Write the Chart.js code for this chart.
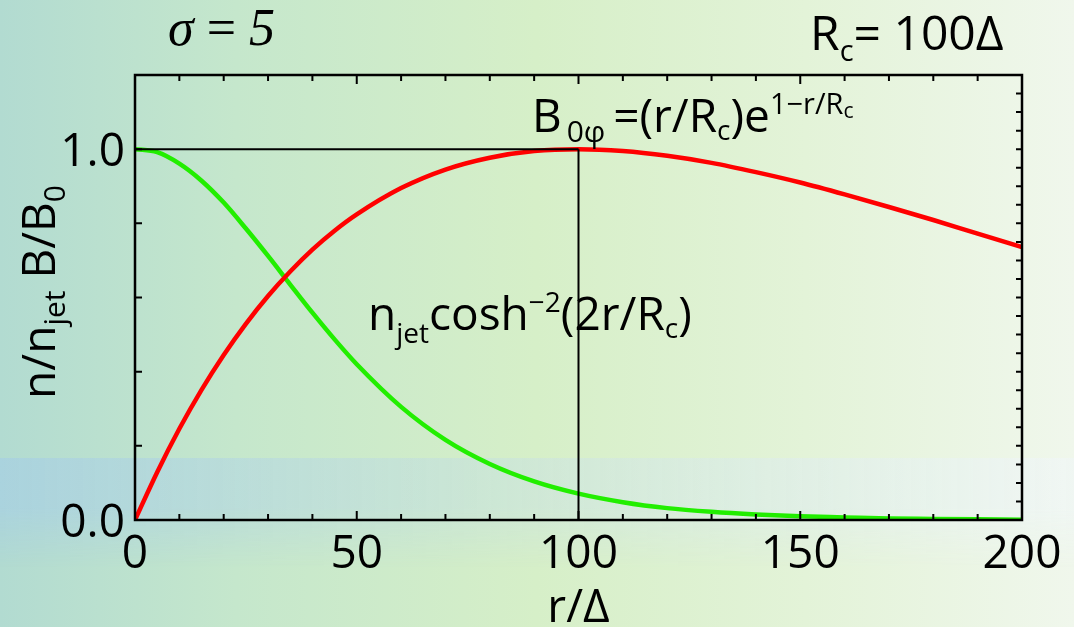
<!DOCTYPE html>
<html>
<head>
<meta charset="utf-8">
<script src="https://cdn.jsdelivr.net/npm/chart.js@4.4.1/dist/chart.umd.min.js"></script>
<style>
  html, body { margin: 0; padding: 0; }
  body {
    width: 1074px; height: 627px; overflow: hidden; position: relative;
    background: linear-gradient(to right, #b2dbd1 0%, #c5e7cc 22%, #d6efc8 50%, #e3f3d8 75%, #f0f7ec 100%);
  }
  #banda {
    position: absolute; left: 0; top: 458px; width: 1074px; height: 110px;
    background: linear-gradient(to right, rgba(165,205,230,0.6) 0%, rgba(195,222,228,0.45) 45%, rgba(240,246,248,0.6) 100%);
    -webkit-mask-image: linear-gradient(to bottom, #000 0%, #000 45%, transparent 100%);
    mask-image: linear-gradient(to bottom, #000 0%, #000 45%, transparent 100%);
  }
  #wrap { position: absolute; left: 0; top: 0; width: 1074px; height: 627px; }
</style>
</head>
<body>
<div id="banda"></div>
<div id="wrap"><canvas id="grafico"></canvas></div>
<script>
// r/Delta
var radio = [0,5,10,15,20,25,30,35,40,45,50,60,70,80,90,100,110,120,130,140,150,160,170,180,190,200];
// B/B0 (red)
var campoB = [0,0.129,0.246,0.351,0.445,0.529,0.604,0.670,0.729,0.780,0.824,0.895,0.945,0.977,0.995,1.0,0.995,0.982,0.963,0.938,0.910,0.878,0.844,0.809,0.772,0.736];
// n/njet (green)
var densidad = [1.0,0.992,0.961,0.915,0.856,0.786,0.712,0.635,0.559,0.487,0.420,0.305,0.216,0.151,0.104,0.071,0.048,0.032,0.022,0.015,0.010,0.007,0.004,0.003,0.002,0.001];
// guide lines
var guiaH_x = [0,100], guiaH_y = [1,1];
var guiaV_x = [100,100], guiaV_y = [0,1];
var xTicks = [0,50,100,150,200];
var yTicks = ["0.0","1.0"];

function pares(xs, ys){
  var out = [];
  for (var i = 0; i < xs.length; i++) out.push({x: xs[i], y: ys[i]});
  return out;
}

var fuente = '"Open Sans", "Liberation Sans", sans-serif';
var serif = '"Liberation Serif", serif';

// partes: [texto, tamaño, dy, familia, estilo]
function rico(ctx, partes, x, y, align){
  function f(p){ return (p[4] ? p[4] + ' ' : '') + p[1] + 'px ' + (p[3] || fuente); }
  var w = 0;
  partes.forEach(function(p){ ctx.font = f(p); w += ctx.measureText(p[0]).width; });
  var cx = align === 'center' ? x - w/2 : (align === 'right' ? x - w : x);
  ctx.textAlign = 'left';
  ctx.textBaseline = 'alphabetic';
  partes.forEach(function(p){
    ctx.font = f(p);
    ctx.fillText(p[0], cx, y + (p[2] || 0));
    cx += ctx.measureText(p[0]).width;
  });
}

var ejes = {
  id: 'ejes',
  afterDraw: function(chart){
    var ctx = chart.ctx, a = chart.chartArea;
    var sx = chart.scales.x, sy = chart.scales.y;
    ctx.save();
    ctx.strokeStyle = '#000';
    ctx.fillStyle = '#000';
    ctx.lineWidth = 2.5;
    ctx.strokeRect(a.left, a.top, a.right - a.left, a.bottom - a.top);
    ctx.lineWidth = 2;
    ctx.beginPath();
    for (var v = 10; v < 200; v += 10) {
      var px = sx.getPixelForValue(v);
      var l = (v % 50 === 0) ? 9 : 6;
      ctx.moveTo(px, a.bottom); ctx.lineTo(px, a.bottom - l);
      ctx.moveTo(px, a.top); ctx.lineTo(px, a.top + l);
    }
    for (var k = 1; k < 6; k++) {
      var py = sy.getPixelForValue(k * 0.2);
      ctx.moveTo(a.left, py); ctx.lineTo(a.left + 7, py);
    }
    for (var j = 1; j < 24; j++) {
      var py2 = sy.getPixelForValue(j * 0.05);
      ctx.moveTo(a.right, py2); ctx.lineTo(a.right - 6, py2);
    }
    ctx.stroke();

    // tick labels
    xTicks.forEach(function(t){
      rico(ctx, [[String(t), 46]], sx.getPixelForValue(t), a.bottom + 48, 'center');
    });
    yTicks.forEach(function(t){
      rico(ctx, [[t, 46]], a.left - 10, sy.getPixelForValue(parseFloat(t)) + 17, 'right');
    });

    // axis titles
    rico(ctx, [['r/\u0394', 46]], sx.getPixelForValue(100), 622, 'center');
    ctx.save();
    ctx.translate(55, 292);
    ctx.rotate(-Math.PI/2);
    rico(ctx, [['n/n', 46], ['jet', 30, 10], [' B/B', 46], ['0', 30, 10]], 0, 0, 'center');
    ctx.restore();

    // annotations
    rico(ctx, [['\u03c3', 52, 0, serif, 'italic'], [' = ', 52, 0, serif], ['5', 52, 0, serif, 'italic']], 168, 45);
    rico(ctx, [['R', 48], ['c', 29, 11], ['= 100\u0394', 48]], 810, 50);
    rico(ctx, [['B', 46], ['\u20090\u03c6 ', 30, 10], ['=(r/R', 46], ['c', 28, 8], [')e', 46], ['1\u2212r/R', 29, -18], ['c', 21, -14]], 532, 132);
    rico(ctx, [['n', 46], ['jet', 28, 13], ['cosh', 46], ['\u22122', 28, -18], ['(2r/R', 46], ['c', 28, 8], [')', 46]], 368, 330);
    ctx.restore();
  }
};

var grafico = new Chart(document.getElementById('grafico').getContext('2d'), {
  type: 'line',
  data: {
    datasets: [
      { data: pares(guiaH_x, guiaH_y), borderColor: '#000', borderWidth: 2, pointRadius: 0, tension: 0 },
      { data: pares(guiaV_x, guiaV_y), borderColor: '#000', borderWidth: 2, pointRadius: 0, tension: 0 },
      { data: pares(radio, campoB), borderColor: '#ff0000', borderWidth: 4.5, pointRadius: 0, cubicInterpolationMode: 'monotone' },
      { data: pares(radio, densidad), borderColor: '#22ee00', borderWidth: 4.5, pointRadius: 0, cubicInterpolationMode: 'monotone' }
    ]
  },
  options: {
    responsive: true,
    maintainAspectRatio: false,
    animation: false,
    layout: { padding: { left: 135, right: 52, top: 75, bottom: 107 } },
    plugins: { legend: { display: false }, tooltip: { enabled: false } },
    scales: {
      x: { type: 'linear', min: 0, max: 200, display: false },
      y: { type: 'linear', min: 0, max: 1.2, display: false }
    }
  },
  plugins: [ejes]
});
</script>
</body>
</html>
